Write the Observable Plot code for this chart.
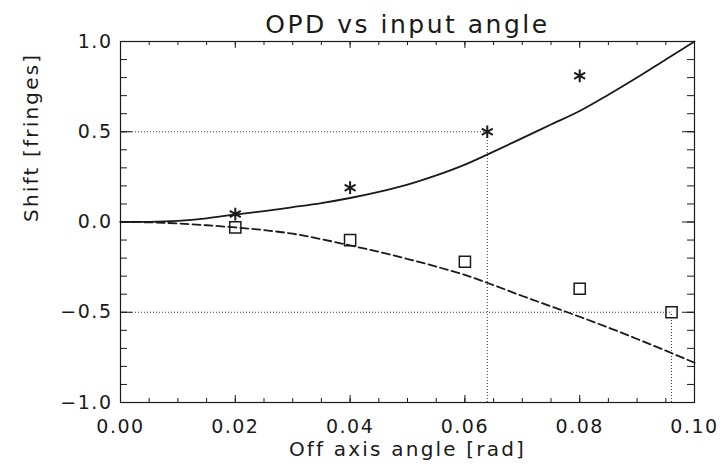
<!DOCTYPE html>
<html>
<head>
<meta charset="utf-8">
<script src="https://cdn.jsdelivr.net/npm/d3@7"></script>
<script src="https://cdn.jsdelivr.net/npm/@observablehq/plot@0.6"></script>
<style>
  html, body { margin: 0; padding: 0; background: #fff; }
</style>
</head>
<body>
<div id="chart"></div>
<script>
const title = "OPD vs input angle";
const xLabel = "Off axis angle [rad]";
const yLabel = "Shift [fringes]";

// fitted curves
const xFit = [0, 0.005, 0.01, 0.015, 0.02, 0.025, 0.03, 0.035, 0.04, 0.045, 0.05,
              0.055, 0.06, 0.065, 0.07, 0.075, 0.08, 0.085, 0.09, 0.095, 0.1];
const ySolid = [0, 0.001, 0.006, 0.02, 0.042, 0.06, 0.082, 0.105, 0.133, 0.167, 0.207,
                0.258, 0.318, 0.39, 0.465, 0.54, 0.615, 0.705, 0.8, 0.9, 1.0];
const yDashed = [0, -0.002, -0.008, -0.018, -0.03, -0.045, -0.065, -0.095, -0.13, -0.165, -0.205,
                 -0.247, -0.293, -0.35, -0.41, -0.467, -0.525, -0.585, -0.648, -0.713, -0.78];

// measured points
const starX = [0.02, 0.04, 0.0639, 0.08];
const starY = [0.044, 0.19, 0.5, 0.81];
const squareX = [0.02, 0.04, 0.06, 0.08, 0.096];
const squareY = [-0.03, -0.10, -0.22, -0.37, -0.5];

// dotted guide lines
const guideX = [0.0639, 0.096];
const guideY = [0.5, -0.5];

// ticks
const xMajor = [0, 0.02, 0.04, 0.06, 0.08, 0.1];
const xMinor = d3.range(0, 21).map(i => i * 0.005);
const yMajor = [-1, -0.5, 0, 0.5, 1];
const yMinor = d3.range(-10, 11).map(i => i / 10);

const fitData = xFit.map((x, i) => ({x, solid: ySolid[i], dashed: yDashed[i]}));
const stars = starX.map((x, i) => ({x, y: starY[i]}));
const squares = squareX.map((x, i) => ({x, y: squareY[i]}));
const guides = guideX.map((x, i) => ({x, y: guideY[i]}));

const ink = "#1a1a1a";
const fmtY = d => (d < 0 ? "\u2212" : "") + Math.abs(d).toFixed(1);

const W = 722, H = 468, mL = 120, mR = 28, mT = 41, mB = 66;
const fw = W - mL - mR, fh = H - mT - mB;

const plot = Plot.plot({
  width: W,
  height: H,
  marginLeft: mL,
  marginRight: mR,
  marginTop: mT,
  marginBottom: mB,
  style: {fontFamily: "DejaVu Sans", color: ink, background: "#fff"},
  x: {domain: [0, 0.1], axis: null},
  y: {domain: [-1, 1], axis: null},
  marks: [
    Plot.ruleY(guides, {y: "y", x1: 0, x2: "x", stroke: "#333", strokeWidth: 1, strokeDasharray: "1,2"}),
    Plot.ruleX(guides, {x: "x", y1: -1, y2: "y", stroke: "#333", strokeWidth: 1, strokeDasharray: "1,2"}),
    Plot.line(fitData, {x: "x", y: "solid", stroke: ink, strokeWidth: 1.8, curve: "monotone-x"}),
    Plot.line(fitData, {x: "x", y: "dashed", stroke: ink, strokeWidth: 1.8, strokeDasharray: "8,4", curve: "monotone-x"}),
    Plot.dot(stars, {x: "x", y: "y", symbol: "asterisk", r: 6, stroke: ink, strokeWidth: 2}),
    Plot.dot(squares, {x: "x", y: "y", symbol: "square", r: 6.3, fill: "none", stroke: ink, strokeWidth: 1.5}),
    Plot.frame({stroke: ink, strokeWidth: 1.2}),
    // inward ticks on all four sides
    Plot.tickX(xMinor, {x: d => d, insetTop: fh - 4, stroke: ink}),
    Plot.tickX(xMajor, {x: d => d, insetTop: fh - 7, stroke: ink}),
    Plot.tickX(xMinor, {x: d => d, insetBottom: fh - 4, stroke: ink}),
    Plot.tickX(xMajor, {x: d => d, insetBottom: fh - 7, stroke: ink}),
    Plot.tickY(yMinor, {y: d => d, insetRight: fw - 7, stroke: ink}),
    Plot.tickY(yMajor, {y: d => d, insetRight: fw - 12, stroke: ink}),
    Plot.tickY(yMinor, {y: d => d, insetLeft: fw - 7, stroke: ink}),
    Plot.tickY(yMajor, {y: d => d, insetLeft: fw - 12, stroke: ink}),
    // tick labels
    Plot.axisX({ticks: xMajor, anchor: "bottom", tickSize: 0, tickPadding: 17, tickFormat: d => d.toFixed(2), fontSize: 19, fill: ink, label: null}),
    Plot.axisY({ticks: yMajor, anchor: "left", tickSize: 0, tickPadding: 8, tickFormat: fmtY, fontSize: 19, fill: ink, label: null}),
    // titles
    Plot.text([title], {frameAnchor: "top", lineAnchor: "middle", dy: -17, fontSize: 25, fill: ink}),
    Plot.text([xLabel], {frameAnchor: "bottom", lineAnchor: "middle", dy: 47, fontSize: 20, fill: ink}),
    Plot.text([yLabel], {frameAnchor: "left", lineAnchor: "middle", dx: -89, rotate: -90, fontSize: 20, fill: ink})
  ]
});

// letter spacing to mimic the wide plotting font
d3.select(plot).selectAll("text").each(function() {
  const t = this.textContent;
  let ls = "1.5px";
  if (t === title) ls = "2.5px";
  else if (t === xLabel || t === yLabel) ls = "2.2px";
  this.setAttribute("letter-spacing", ls);
});

document.getElementById("chart").appendChild(plot);
</script>
</body>
</html>
